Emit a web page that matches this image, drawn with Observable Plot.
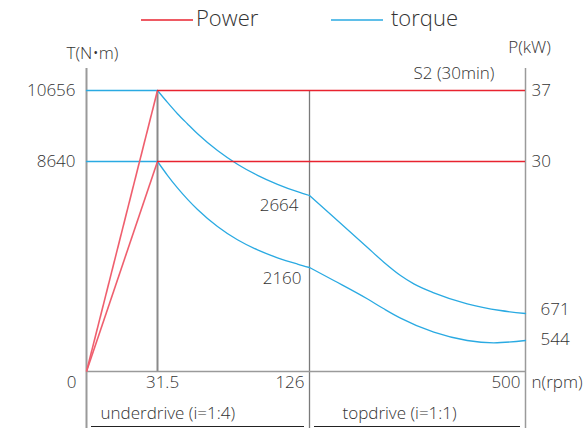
<!DOCTYPE html>
<html>
<head>
<meta charset="utf-8">
<script src="https://cdn.jsdelivr.net/npm/d3@7"></script>
<script src="https://cdn.jsdelivr.net/npm/@observablehq/plot@0.6"></script>
<style>
  html, body { margin: 0; padding: 0; background: #fff; }
  body { width: 585px; height: 428px; overflow: hidden; font-family: "Open Sans", Roboto, sans-serif; font-weight: 300; color: #333; }
  #legend { position: relative; height: 36px; }
  #legend svg { position: absolute; top: 16px; }
  #legend .lb { position: absolute; top: 6px; font-size: 22px; line-height: 22px; color: #333; }
</style>
</head>
<body>
<div id="legend"></div>
<div id="chart"></div>
<script>
// ---- data ----
const rpmTicks = [0, 31.5, 126, 500];          // n (rpm)
const torqueTicks = [8640, 10656];             // T (N·m)
const powerKW = [30, 37];                      // P (kW), S2 30 min
const kWtoTorque = 10656 / 37;                 // right axis: P = T / 288
const cornerTorque = [2664, 2160];             // torque at 126 rpm
const endTorque = [671, 544];                  // torque at 500 rpm

// torque curves (rpm, N·m) (schematic axis)
const upperConst = [[0, 10656], [31.5, 10656]];
const upperUnder = [[31.5, 10656], [37.7, 10318], [43.9, 9997], [50.2, 9705], [56.4, 9427], [68.8, 8952],
  [81.2, 8165], [93.7, 6215], [106.1, 4633], [118.5, 3332], [126, 2664]];
const upperTop = [[126, 2664], [168.1, 2512], [225.9, 2302], [254.7, 2197], [283.6, 1901], [306.6, 1632],
  [341.2, 1341], [399.1, 985], [456.7, 768], [500, 671]];
const lowerConst = [[0, 8640], [31.5, 8640]];
const lowerUnder = [[31.5, 8640], [37.7, 6215], [43.9, 4000], [50.2, 2637], [56.4, 2566], [68.8, 2447],
  [81.2, 2354], [93.7, 2283], [106.1, 2228], [118.5, 2184], [126, 2160]];
const lowerTop = [[126, 2160], [168.1, 1739], [225.9, 1147], [254.7, 823], [283.6, 649], [341.2, 583],
  [399.1, 544], [445.1, 504], [500, 544]];

const driveRanges = [
  {label: "underdrive (i=1:4)", from: 0, to: 126},
  {label: "topdrive (i=1:1)", from: 126, to: 500}
];

// ---- styling ----
const RED = "#e8232f", PINK = "#ef5f6e", BLUE = "#2aaae2", GREY = "#9a9a9a", INK = "#333";
const FS = 17;

// ---- legend ----
const swatch = (left, color) =>
  `<svg width="52" height="8" style="left:${left}px"><line x1="0" x2="52" y1="4" y2="4" stroke="${color}" stroke-width="1.4"/></svg>`;
document.getElementById("legend").innerHTML =
  swatch(141, RED) + `<span class="lb" style="left:196px">Power</span>` +
  swatch(331, BLUE) + `<span class="lb" style="left:391px">torque</span>`;

// ---- table for lines ----
const segs = {upperConst, upperUnder, upperTop, lowerConst, lowerUnder, lowerTop};
const torqueRows = Object.entries(segs).flatMap(([k, pts]) => pts.map(([n, T]) => ({seg: k, n, T})));

const baseSpeed = rpmTicks[1], midSpeed = rpmTicks[2], maxSpeed = rpmTicks[3];
const yBreaks = [0, ...endTorque.slice().reverse(), ...cornerTorque.slice().reverse(), ...torqueTicks];

const chart = Plot.plot({
  width: 585,
  height: 392,
  marginTop: 32,
  marginBottom: 0,
  marginLeft: 86,
  marginRight: 60,
  style: {fontFamily: "'Open Sans', Roboto, sans-serif", fontWeight: 300, background: "#fff", overflow: "visible"},
  x: {type: "linear", domain: rpmTicks, range: [86, 157, 309, 525], axis: null},
  y: {type: "linear", domain: yBreaks, range: [335, 304, 277, 231, 159, 125, 54], axis: null},
  marks: [
    // frame / reference lines
    Plot.ruleX([rpmTicks[0]], {stroke: GREY, strokeWidth: 2}),
    Plot.ruleX([maxSpeed], {stroke: GREY, strokeWidth: 1.5}),
    Plot.ruleX([midSpeed], {stroke: "#7a7a7a", strokeWidth: 1.3, insetTop: 22}),
    Plot.ruleX([baseSpeed], {y1: 0, y2: torqueTicks[1], stroke: "#8a8a8a", strokeWidth: 2}),
    Plot.ruleY([0], {x1: rpmTicks[0], x2: maxSpeed, stroke: GREY, strokeWidth: 1.5}),
    // torque
    Plot.line(torqueRows, {x: "n", y: "T", z: "seg", stroke: BLUE, strokeWidth: 1.3, curve: "monotone-x"}),
    // power
    Plot.link(powerKW, {x1: () => 0, y1: () => 0, x2: () => baseSpeed, y2: p => p * kWtoTorque, stroke: PINK, strokeWidth: 1.6}),
    Plot.ruleY(powerKW, {y: p => p * kWtoTorque, x1: () => baseSpeed, x2: () => maxSpeed, stroke: RED, strokeWidth: 1.3}),
    // left axis labels
    Plot.text(torqueTicks, {x: () => 0, y: d => d, text: d => String(d), textAnchor: "end", dx: -11, fontSize: FS, fill: INK}),
    // right axis labels (kW)
    Plot.text(powerKW, {x: () => maxSpeed, y: p => p * kWtoTorque, text: p => String(p), textAnchor: "start", dx: 6, fontSize: FS, fill: INK}),
    // x tick labels
    Plot.text([0], {x: d => d, y: () => 0, text: d => String(d), textAnchor: "middle", lineAnchor: "top", dx: -15, dy: 4, fontSize: FS, fill: INK}),
    Plot.text([baseSpeed], {x: d => d, y: () => 0, text: d => String(d), textAnchor: "middle", lineAnchor: "top", dx: 5, dy: 4, fontSize: FS, fill: INK}),
    Plot.text([midSpeed, maxSpeed], {x: d => d, y: () => 0, text: d => String(d), textAnchor: "end", lineAnchor: "top", dx: -5, dy: 4, fontSize: FS, fill: INK}),
    Plot.text(["n(rpm)"], {x: () => maxSpeed, y: () => 0, text: d => d, textAnchor: "start", lineAnchor: "top", dx: 6, dy: 4, fontSize: FS, fill: INK}),
    // axis titles
    Plot.text(["T(N•m)"], {x: () => 0, y: () => torqueTicks[1], text: d => d, textAnchor: "middle", lineAnchor: "bottom", dx: 6, dy: -32, fontSize: FS, fill: INK}),
    Plot.text(["P(kW)"], {x: () => maxSpeed, y: () => torqueTicks[1], text: d => d, textAnchor: "middle", lineAnchor: "bottom", dx: 4, dy: -38, fontSize: FS, fill: INK}),
    Plot.text(["S2 (30min)"], {x: () => maxSpeed, y: () => torqueTicks[1], text: d => d, textAnchor: "end", lineAnchor: "bottom", dx: -31, dy: -12, fontSize: FS, fill: INK}),
    // value annotations
    Plot.text([cornerTorque[0]], {x: () => midSpeed, y: d => d, text: d => String(d), textAnchor: "end", dx: -11, dy: 10, fontSize: FS, fill: INK}),
    Plot.text([cornerTorque[1]], {x: () => midSpeed, y: d => d, text: d => String(d), textAnchor: "end", dx: -8, dy: 11, fontSize: FS, fill: INK}),
    Plot.text([endTorque[0]], {x: () => maxSpeed, y: d => d, text: d => String(d), textAnchor: "start", dx: 15, dy: -4, fontSize: FS, fill: INK}),
    Plot.text([endTorque[1]], {x: () => maxSpeed, y: d => d, text: d => String(d), textAnchor: "start", dx: 15, dy: -1, fontSize: FS, fill: INK}),
    // drive ranges
    Plot.ruleY(driveRanges, {y: () => 0, x1: "from", x2: "to", dy: 55, insetLeft: 5, insetRight: 5, stroke: "#222", strokeWidth: 1}),
    Plot.text([driveRanges[0]], {x: "from", y: () => 0, text: "label", textAnchor: "start", lineAnchor: "bottom", dx: 14, dy: 47, fontSize: FS, fill: INK}),
    Plot.text([driveRanges[1]], {x: "from", y: () => 0, text: "label", textAnchor: "start", lineAnchor: "bottom", dx: 33, dy: 47, fontSize: FS, fill: INK})
  ]
});
document.getElementById("chart").appendChild(chart);
</script>
</body>
</html>
